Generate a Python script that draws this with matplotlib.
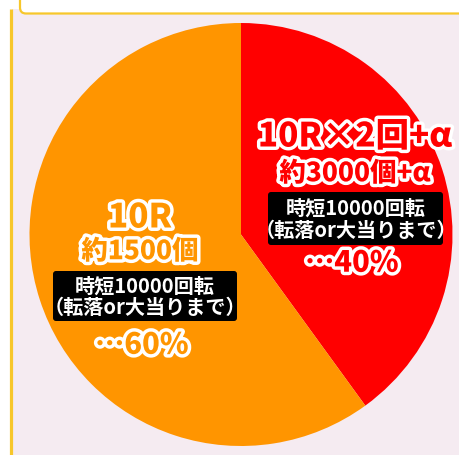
import matplotlib
matplotlib.use("Agg")
import matplotlib.pyplot as plt
import matplotlib.patheffects as pe
from matplotlib.patches import Rectangle, FancyBboxPatch

plt.rcParams['font.family'] = ['Noto Sans CJK JP', 'DejaVu Sans']

# data
shares = [40, 60]
colors = ['#ff0000', '#ff9500']
heads = ['10R×2回+α', '10R']
balls = ['約3000個+α', '約1500個']
jitan = '時短10000回転\n（転落or大当りまで）'
pct_labels = ['…40%', '…60%']

W, H = 460, 456
def Y(y):
    return H - y

fig = plt.figure(figsize=(W / 100, H / 100), dpi=100, facecolor='white')
ax = fig.add_axes([0, 0, 1, 1])

# background frame
ax.add_patch(Rectangle((12, 0), W, Y(10), facecolor='#f5ebf1', edgecolor='none', zorder=0))
ax.plot([11.5, 11.5], [0, Y(10)], color='#f7c72b', lw=2.3, zorder=1, solid_capstyle='butt')
ax.add_patch(FancyBboxPatch((20, Y(14.5)), W, 40, boxstyle='round,pad=0,rounding_size=6',
                            facecolor='white', edgecolor='#f7c72b', lw=1.6, zorder=1))

# pie
ax.pie(shares, colors=colors, startangle=90, counterclock=False,
       center=(241, Y(235.5)), radius=211.5, frame=True,
       wedgeprops=dict(linewidth=0))

ax.set_xlim(0, W)
ax.set_ylim(0, H)
ax.set_aspect('auto')
ax.axis('off')

# labels
spots = [
    dict(cx=355, head_y=137, ball_y=174, box=(268, 193, 443, 246), pct_x=352, pct_y=264),
    dict(cx=140, head_y=218, ball_y=252, box=(53, 272, 237, 322), pct_x=142, pct_y=346),
]
for i, s in enumerate(spots):
    stroke = [pe.withStroke(linewidth=5, foreground='white')]
    ax.text(s['cx'], Y(s['head_y']), heads[i], ha='center', va='center', fontsize=24,
            fontweight='heavy', color=colors[i], path_effects=stroke, zorder=5)
    ax.text(s['cx'], Y(s['ball_y']), balls[i], ha='center', va='center', fontsize=19,
            fontweight='heavy', color=colors[i], path_effects=stroke, zorder=5)
    x0, y0, x1, y1 = s['box']
    ax.add_patch(FancyBboxPatch((x0, Y(y1)), x1 - x0, y1 - y0,
                                boxstyle='round,pad=0,rounding_size=3',
                                facecolor='black', edgecolor='none', zorder=4))
    ax.text((x0 + x1) / 2, Y((y0 + y1) / 2), jitan, ha='center', va='center',
            fontsize=14.5, fontweight='bold', color='white', linespacing=1.05, zorder=5)
    ax.text(s['pct_x'], Y(s['pct_y']), pct_labels[i], ha='center', va='center', fontsize=21,
            fontweight='heavy', color=colors[i], path_effects=stroke, zorder=5)

fig.savefig('out.png', dpi=100, facecolor='white')
